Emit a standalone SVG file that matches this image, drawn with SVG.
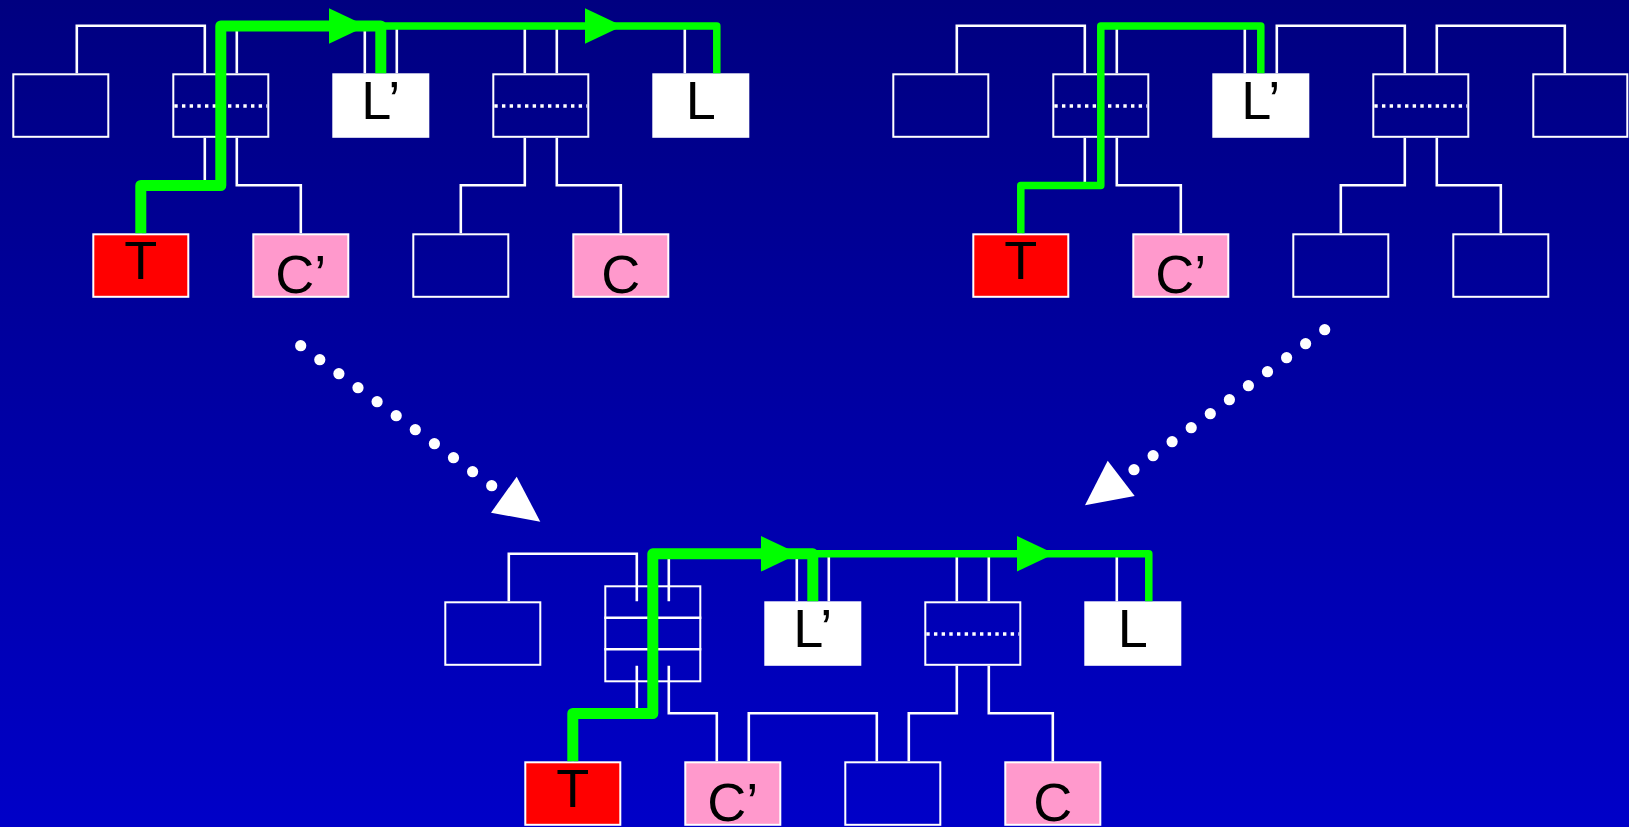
<svg xmlns="http://www.w3.org/2000/svg" width="1629" height="827" viewBox="0 0 1629 827">
  <defs>
    <linearGradient id="bg" x1="0" y1="0" x2="0" y2="1">
      <stop offset="0" stop-color="#000080"/>
      <stop offset="1" stop-color="#0000C8"/>
    </linearGradient>
    <style>
      .wire{fill:none;stroke:#FFFFFF;stroke-width:2.6;stroke-linejoin:miter;stroke-linecap:butt}
      .box{fill:none;stroke:#FFFFFF;stroke-width:2}
      .lt{fill:#FFFFFF;stroke:#FFFFFF;stroke-width:2}
      .tg{fill:#FF0000;stroke:#FFFFFF;stroke-width:2}
      .cc{fill:#FF99CC;stroke:#FFFFFF;stroke-width:2}
      .dots{fill:none;stroke:#FFFFFF;stroke-width:3.4;stroke-dasharray:3.4 4.27}
      .div{fill:none;stroke:#FFFFFF;stroke-width:2.6}
      .lbl{font-family:"Liberation Sans",Arial,Helvetica,sans-serif;font-size:54px;fill:#000000;text-anchor:middle}
      .gthick{fill:none;stroke:#00FF00;stroke-width:11;stroke-linejoin:round;stroke-linecap:butt}
      .gthin{fill:none;stroke:#00FF00;stroke-width:7.5;stroke-linejoin:round;stroke-linecap:butt}
      .ghead{fill:#00FF00}
      .wdot{fill:#FFFFFF}
      .whead{fill:#FFFFFF}
    </style>
  </defs>
  <rect x="0" y="0" width="1629" height="827" fill="url(#bg)"/>

  <g id="connectors">
    <!-- diagram A -->
    <path class="wire" d="M76.8,73.3 V25.7 H204.8 V73.3"/>
    <path class="wire" d="M236.8,73.3 V25.7 H364.8 V73.3"/>
    <path class="wire" d="M396.8,73.3 V25.7 H524.8 V73.3"/>
    <path class="wire" d="M556.8,73.3 V25.7 H684.8 V73.3"/>
    <path class="wire" d="M204.8,137.8 V185.2 H140.8 V233.3"/>
    <path class="wire" d="M236.8,137.8 V185.2 H300.8 V233.3"/>
    <path class="wire" d="M524.8,137.8 V185.2 H460.8 V233.3"/>
    <path class="wire" d="M556.8,137.8 V185.2 H620.8 V233.3"/>
    <!-- diagram B -->
    <path class="wire" d="M956.8,73.3 V25.7 H1084.8 V73.3"/>
    <path class="wire" d="M1116.8,73.3 V25.7 H1244.8 V73.3"/>
    <path class="wire" d="M1276.8,73.3 V25.7 H1404.8 V73.3"/>
    <path class="wire" d="M1436.8,73.3 V25.7 H1564.8 V73.3"/>
    <path class="wire" d="M1084.8,137.8 V185.2 H1020.8 V233.3"/>
    <path class="wire" d="M1116.8,137.8 V185.2 H1180.8 V233.3"/>
    <path class="wire" d="M1404.8,137.8 V185.2 H1340.8 V233.3"/>
    <path class="wire" d="M1436.8,137.8 V185.2 H1500.8 V233.3"/>
    <!-- diagram C -->
    <path class="wire" d="M508.8,601.3 V553.7 H636.8 V601.3"/>
    <path class="wire" d="M668.8,601.3 V553.7 H796.8 V601.3"/>
    <path class="wire" d="M828.8,601.3 V553.7 H956.8 V601.3"/>
    <path class="wire" d="M988.8,601.3 V553.7 H1116.8 V601.3"/>
    <path class="wire" d="M636.8,665.8 V713.2 H572.8 V761.3"/>
    <path class="wire" d="M668.8,665.8 V713.2 H716.8 V761.3"/>
    <path class="wire" d="M748.8,761.3 V713.2 H876.8 V761.3"/>
    <path class="wire" d="M908.8,761.3 V713.2 H956.8 V665.8"/>
    <path class="wire" d="M988.8,665.8 V713.2 H1052.8 V761.3"/>
  </g>

  <!-- Diagram A nodes -->
  <g id="a-top1"><rect class="box" x="13.3" y="74.3" width="95" height="62.5"/></g>
  <g id="a-top2"><rect class="box" x="173.3" y="74.3" width="95" height="62.5"/><line class="dots" x1="174.3" y1="106" x2="267.3" y2="106"/></g>
  <g id="a-Lp"><rect class="lt" x="333.3" y="74.3" width="95" height="62.5"/><text class="lbl" x="380.8" y="119.3">L’</text></g>
  <g id="a-top4"><rect class="box" x="493.3" y="74.3" width="95" height="62.5"/><line class="dots" x1="494.3" y1="106" x2="587.3" y2="106"/></g>
  <g id="a-L"><rect class="lt" x="653.3" y="74.3" width="95" height="62.5"/><text class="lbl" x="700.8" y="119.3">L</text></g>
  <g id="a-T"><rect class="tg" x="93.3" y="234.3" width="95" height="62.5"/><text class="lbl" x="140.8" y="279.3">T</text></g>
  <g id="a-Cp"><rect class="cc" x="253.3" y="234.3" width="95" height="62.5"/><text class="lbl" x="300.8" y="292.5">C’</text></g>
  <g id="a-bot3"><rect class="box" x="413.3" y="234.3" width="95" height="62.5"/></g>
  <g id="a-C"><rect class="cc" x="573.3" y="234.3" width="95" height="62.5"/><text class="lbl" x="620.8" y="292.5">C</text></g>

  <!-- Diagram B nodes -->
  <g id="b-top1"><rect class="box" x="893.3" y="74.3" width="95" height="62.5"/></g>
  <g id="b-top2"><rect class="box" x="1053.3" y="74.3" width="95" height="62.5"/><line class="dots" x1="1054.3" y1="106" x2="1147.3" y2="106"/></g>
  <g id="b-Lp"><rect class="lt" x="1213.3" y="74.3" width="95" height="62.5"/><text class="lbl" x="1260.8" y="119.3">L’</text></g>
  <g id="b-top4"><rect class="box" x="1373.3" y="74.3" width="95" height="62.5"/><line class="dots" x1="1374.3" y1="106" x2="1467.3" y2="106"/></g>
  <g id="b-top5"><rect class="box" x="1533.3" y="74.3" width="94" height="62.5"/></g>
  <g id="b-T"><rect class="tg" x="973.3" y="234.3" width="95" height="62.5"/><text class="lbl" x="1020.8" y="279.3">T</text></g>
  <g id="b-Cp"><rect class="cc" x="1133.3" y="234.3" width="95" height="62.5"/><text class="lbl" x="1180.8" y="292.5">C’</text></g>
  <g id="b-bot3"><rect class="box" x="1293.3" y="234.3" width="95" height="62.5"/></g>
  <g id="b-bot4"><rect class="box" x="1453.3" y="234.3" width="95" height="62.5"/></g>

  <!-- Diagram C nodes -->
  <g id="c-top1"><rect class="box" x="445.3" y="602.3" width="95" height="62.5"/></g>
  <g id="c-merged">
    <rect class="box" x="605.3" y="586.3" width="95" height="95"/>
    <line class="div" x1="604.3" y1="617.7" x2="701.3" y2="617.7"/>
    <line class="div" x1="604.3" y1="649.3" x2="701.3" y2="649.3"/>
  </g>
  <g id="c-Lp"><rect class="lt" x="765.3" y="602.3" width="95" height="62.5"/><text class="lbl" x="812.8" y="647.3">L’</text></g>
  <g id="c-top4"><rect class="box" x="925.3" y="602.3" width="95" height="62.5"/><line class="dots" x1="926.3" y1="634" x2="1019.3" y2="634"/></g>
  <g id="c-L"><rect class="lt" x="1085.3" y="602.3" width="95" height="62.5"/><text class="lbl" x="1132.8" y="647.3">L</text></g>
  <g id="c-T"><rect class="tg" x="525.3" y="762.3" width="95" height="62.5"/><text class="lbl" x="572.8" y="807.3">T</text></g>
  <g id="c-Cp"><rect class="cc" x="685.3" y="762.3" width="95" height="62.5"/><text class="lbl" x="732.8" y="820.5">C’</text></g>
  <g id="c-bot3"><rect class="box" x="845.3" y="762.3" width="95" height="62.5"/></g>
  <g id="c-C"><rect class="cc" x="1005.3" y="762.3" width="95" height="62.5"/><text class="lbl" x="1052.8" y="820.5">C</text></g>

  <g id="highlight-paths">
    <path class="gthin" d="M380.8,26 H716.8 V73.3"/>
    <path class="gthick" d="M140.8,233.3 V185.5 H220.8 V26 H380.8 V73.3"/>
    <polygon class="ghead" points="329,8.3 366.5,26 329,43.7"/>
    <polygon class="ghead" points="585,8.3 622.5,26 585,43.7"/>

    <path class="gthin" d="M1020.8,233.3 V185.5 H1100.8 V26 H1260.8 V73.3"/>

    <path class="gthin" d="M812.8,553.8 H1148.8 V601.3"/>
    <path class="gthick" d="M572.8,761.3 V713.5 H652.8 V553.8 H812.8 V601.3"/>
    <polygon class="ghead" points="761,536 798.5,553.8 761,571.6"/>
    <polygon class="ghead" points="1017,536 1054.5,553.8 1017,571.6"/>
  </g>

  <g id="transitions">
    <g id="transition-left">
      <circle class="wdot" cx="300.7" cy="345.7" r="5.6"/>
      <circle class="wdot" cx="319.8" cy="359.7" r="5.6"/>
      <circle class="wdot" cx="338.9" cy="373.7" r="5.6"/>
      <circle class="wdot" cx="358.0" cy="387.7" r="5.6"/>
      <circle class="wdot" cx="377.1" cy="401.7" r="5.6"/>
      <circle class="wdot" cx="396.2" cy="415.7" r="5.6"/>
      <circle class="wdot" cx="415.3" cy="429.7" r="5.6"/>
      <circle class="wdot" cx="434.4" cy="443.7" r="5.6"/>
      <circle class="wdot" cx="453.5" cy="457.7" r="5.6"/>
      <circle class="wdot" cx="472.6" cy="471.7" r="5.6"/>
      <circle class="wdot" cx="491.7" cy="485.7" r="5.6"/>
      <polygon class="whead" points="516.7,476.7 491,512.7 540.3,521.7"/>
    </g>
    <g id="transition-right">
      <circle class="wdot" cx="1324.7" cy="329.7" r="5.6"/>
      <circle class="wdot" cx="1305.6" cy="343.7" r="5.6"/>
      <circle class="wdot" cx="1286.6" cy="357.7" r="5.6"/>
      <circle class="wdot" cx="1267.5" cy="371.7" r="5.6"/>
      <circle class="wdot" cx="1248.4" cy="385.7" r="5.6"/>
      <circle class="wdot" cx="1229.4" cy="399.7" r="5.6"/>
      <circle class="wdot" cx="1210.3" cy="413.7" r="5.6"/>
      <circle class="wdot" cx="1191.2" cy="427.7" r="5.6"/>
      <circle class="wdot" cx="1172.1" cy="441.7" r="5.6"/>
      <circle class="wdot" cx="1153.1" cy="455.7" r="5.6"/>
      <circle class="wdot" cx="1134.0" cy="469.7" r="5.6"/>
      <polygon class="whead" points="1107.7,460.7 1085,505.3 1134.7,496"/>
    </g>
  </g>
</svg>
